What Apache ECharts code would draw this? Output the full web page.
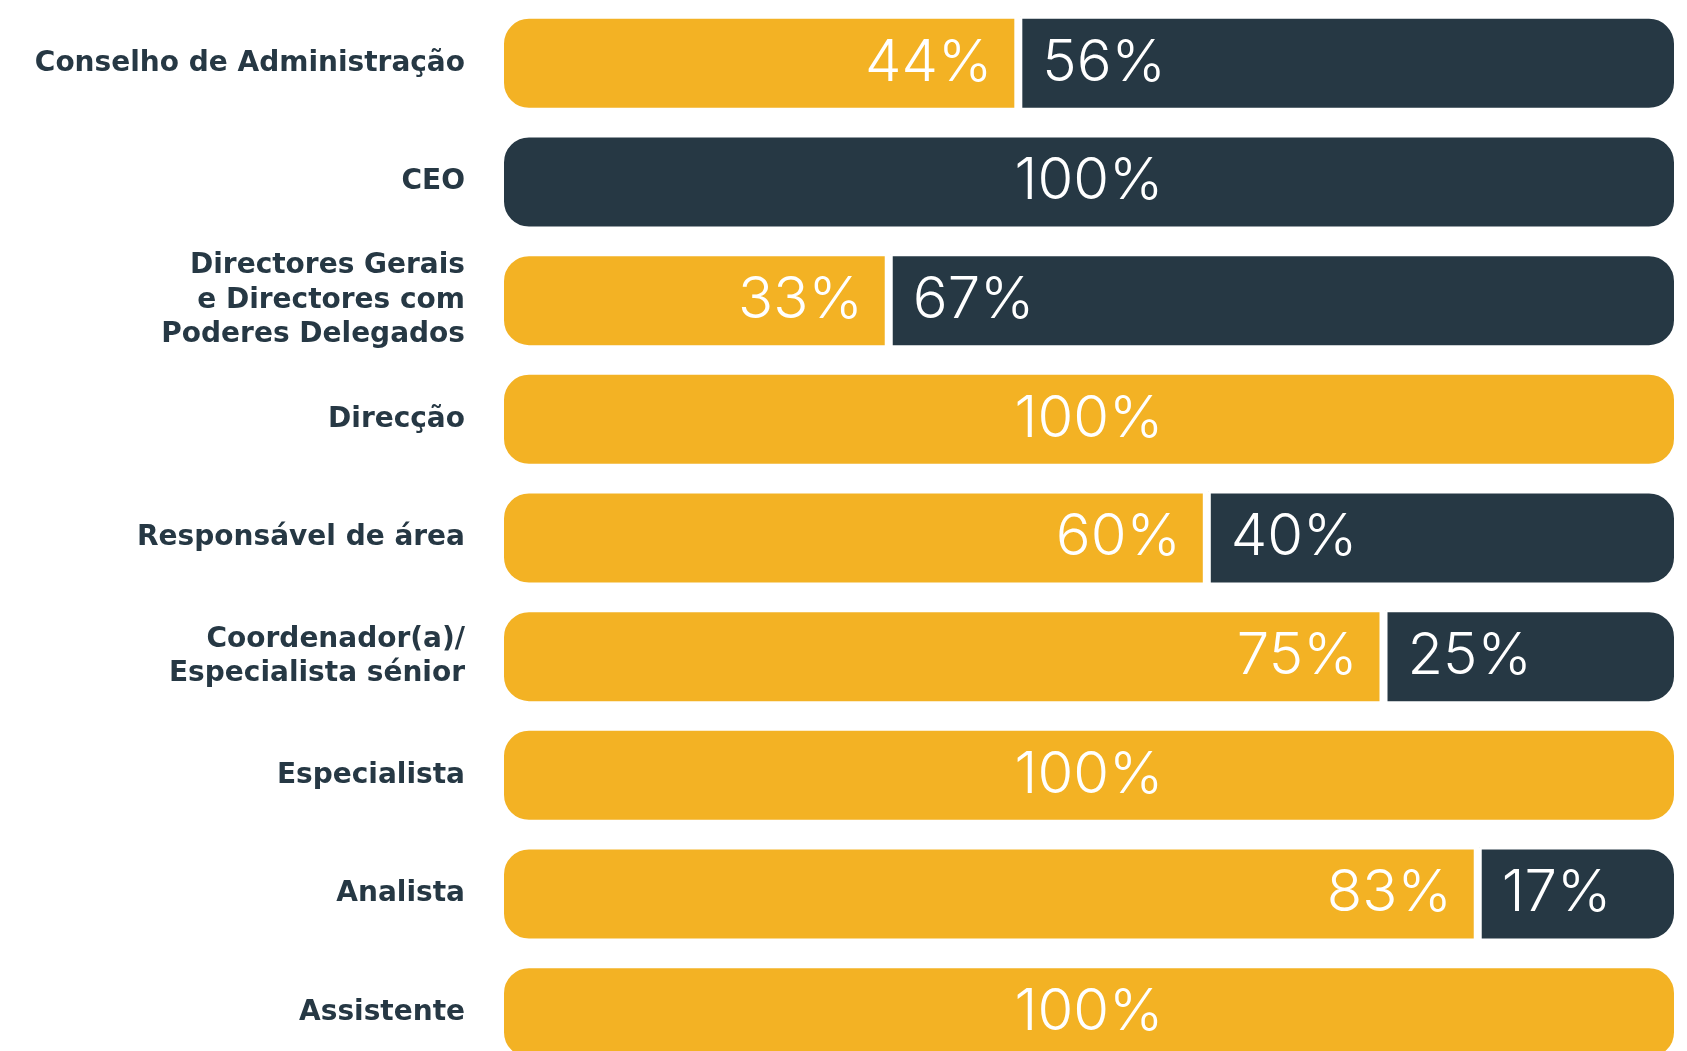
<!DOCTYPE html>
<html><head><meta charset="utf-8">
<script src="https://cdn.jsdelivr.net/npm/echarts@6/dist/echarts.min.js"></script>
<style>html,body{margin:0;padding:0;background:#fff;overflow:hidden}#c{width:1687px;height:1051px}</style>
</head><body><div id="c"></div>
<script>
const categories = [
  'Conselho de Administração',
  'CEO',
  'Directores Gerais\ne Directores com\nPoderes Delegados',
  'Direcção',
  'Responsável de área',
  'Coordenador(a)/\nEspecialista sénior',
  'Especialista',
  'Analista',
  'Assistente'
];
const yellowValues = [44, 0, 33, 100, 60, 75, 100, 83, 100];
const darkValues   = [56, 100, 67, 0, 40, 25, 0, 17, 0];

const YELLOW = '#F3B224', DARK = '#263844', R = 27;
const labelFont = {color:'#fff', fontFamily:'Inter', fontWeight:300, fontSize:58};

function yellowItem(v, i) {
  const full = darkValues[i] === 0;
  return {
    value: v,
    itemStyle: {borderRadius: full ? [R,R,R,R] : [R,0,0,R]},
    label: {show: v > 0, position: full ? 'inside' : 'insideRight', distance: 26}
  };
}
function darkItem(v, i) {
  const full = yellowValues[i] === 0;
  return {
    value: v,
    itemStyle: {borderRadius: full ? [R,R,R,R] : [0,R,R,0]},
    label: {show: v > 0, position: full ? 'inside' : 'insideLeft', distance: 24}
  };
}

const chart = echarts.init(document.getElementById('c'));
chart.setOption({
  animation: false,
  grid: {left: 500, right: 9, top: 4, height: 1068, containLabel: false, outerBoundsMode: 'none'},
  xAxis: {type:'value', min:0, max:100, show:false},
  yAxis: {
    type:'category', data: categories, inverse: true,
    axisLine:{show:false}, axisTick:{show:false}, splitLine:{show:false},
    axisLabel: {color: DARK, fontFamily:'DejaVu Sans', fontWeight:'bold', fontSize:28, lineHeight:34.5, margin:35, align:'right', padding:[7,0,0,0]}
  },
  series: [
    {type:'bar', stack:'s', barWidth:97, data: yellowValues.map(yellowItem),
     itemStyle:{color:YELLOW, borderColor:'#fff', borderWidth:4},
     label: Object.assign({formatter:'{c}%'}, labelFont)},
    {type:'bar', stack:'s', barWidth:97, data: darkValues.map(darkItem),
     itemStyle:{color:DARK, borderColor:'#fff', borderWidth:4},
     label: Object.assign({formatter:'{c}%'}, labelFont)}
  ]
});
</script></body></html>
